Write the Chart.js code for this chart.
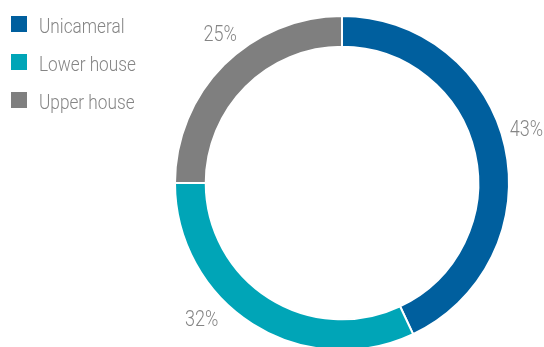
<!DOCTYPE html>
<html>
<head>
<meta charset="utf-8">
<script src="https://cdn.jsdelivr.net/npm/chart.js@4"></script>
<style>
html,body{margin:0;padding:0;background:#fff;}
canvas{display:block;}
</style>
</head>
<body>
<canvas id="c" width="544" height="347"></canvas>
<script>
const categories = ['Unicameral', 'Lower house', 'Upper house'];
const shares = [43, 32, 25];
const valueLabels = ['43%', '32%', '25%'];
const sliceColors = ['#005F9E', '#00A5B7', '#7F7F7F'];
// label placement (angle offset from slice middle in degrees, radius factor)
const labelAngleOffset = [-3.9, 13.7, 5.8];
const labelRadiusFactor = [1.152, 1.167, 1.155];

const TEXT_COLOR = '#858585';
const SCALE_X = 0.82;

function condensedText(ctx, txt, x, y, align) {
  ctx.save();
  ctx.translate(x, y);
  ctx.scale(SCALE_X, 1);
  ctx.textAlign = align;
  ctx.fillText(txt, 0, 0);
  ctx.restore();
}

const customPlugin = {
  id: 'custom',
  afterDraw(chart) {
    const ctx = chart.ctx;
    const meta = chart.getDatasetMeta(0);
    ctx.save();
    ctx.fillStyle = TEXT_COLOR;
    ctx.textBaseline = 'alphabetic';
    ctx.font = '300 22px Roboto';
    meta.data.forEach((arc, i) => {
      const p = arc.getProps(['x','y','startAngle','endAngle','outerRadius'], true);
      const mid = (p.startAngle + p.endAngle) / 2 + labelAngleOffset[i] * Math.PI / 180;
      const r = p.outerRadius * labelRadiusFactor[i];
      const cx = p.x + Math.cos(mid) * r;
      const cy = p.y + Math.sin(mid) * r;
      condensedText(ctx, valueLabels[i], cx, cy + 7.8, 'center');
    });
    // legend
    ctx.font = '300 21px Roboto';
    chart.data.labels.forEach((lab, i) => {
      const top = 16 + i * 38;
      ctx.fillStyle = chart.data.datasets[0].backgroundColor[i];
      ctx.fillRect(11, top, 16, 16);
      ctx.fillStyle = TEXT_COLOR;
      condensedText(ctx, lab, 39, top + 16.5, 'left');
    });
    ctx.restore();
  }
};

new Chart(document.getElementById('c'), {
  type: 'doughnut',
  data: {
    labels: categories,
    datasets: [{
      data: shares,
      backgroundColor: sliceColors,
      borderColor: '#FFFFFF',
      borderWidth: 2,
      radius: 167,
      cutout: 133
    }]
  },
  options: {
    responsive: false,
    animation: false,
    layout: { padding: { left: 140, right: 0, top: 19, bottom: 0 } },
    plugins: {
      legend: { display: false },
      tooltip: { enabled: false }
    }
  },
  plugins: [customPlugin]
});
</script>
</body>
</html>
